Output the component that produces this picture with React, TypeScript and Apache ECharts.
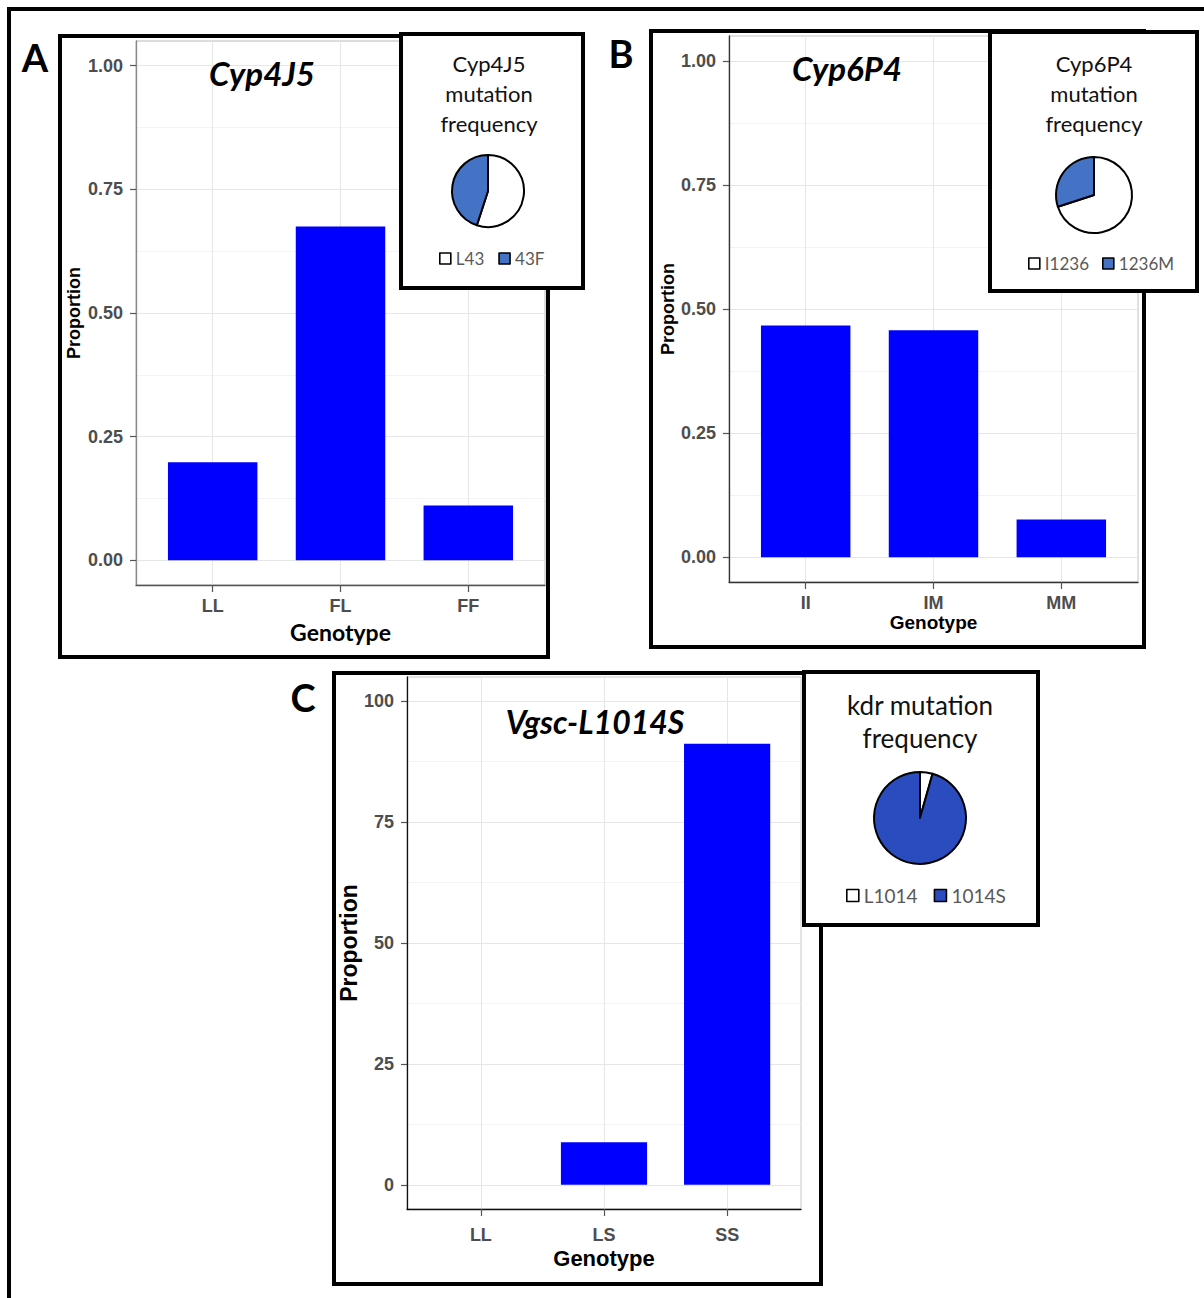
import React, { useEffect, useRef } from "react";
import * as echarts from "echarts";

// ---------- data ----------
const genotypesA = ["LL", "FL", "FF"];
const proportionA = [0.198, 0.675, 0.111];
const genotypesB = ["II", "IM", "MM"];
const proportionB = [0.467, 0.457, 0.076];
const genotypesC = ["LL", "LS", "SS"];
const proportionC = [0, 8.8, 91.2];

const allelesA = ["L43", "43F"];
const allelesAFreq = [0.55, 0.45];
const allelesB = ["I1236", "1236M"];
const allelesBFreq = [0.7, 0.3];
const allelesC = ["L1014", "1014S"];
const allelesCFreq = [0.044, 0.956];

const ticksAB = [0, 0.25, 0.5, 0.75, 1];
const minorAB = [0.125, 0.375, 0.625, 0.875];
const ticksC = [0, 25, 50, 75, 100];
const minorC = [12.5, 37.5, 62.5, 87.5];
const catPos = [1, 2, 3];

// ---------- styles ----------
const ARIAL = "'Liberation Sans', Arial, sans-serif";
const NARROW = "'Liberation Sans Narrow', 'Liberation Sans', Arial, sans-serif";
const LATO = "Lato, 'Open Sans', sans-serif";
const BAR = "#0000FF";
const TICK_GRAY = "#4D4D4D";

type PanelCfg = {
  grid: { left: number; top: number; width: number; height: number };
  cats: string[];
  values: number[];
  yMin: number;
  yMax: number;
  ticks: number[];
  minor: number[];
  fmt: (v: number) => string;
  tickFont: string;
  tickSize: number;
  xLabelMargin: number;
  yLabelMargin: number;
  xLine: string;
  yLine: string;
  border: string;
  xName: { font: string; size: number; gap: number };
  yName: { font: string; size: number; gap: number };
};

function buildPanel(i: number, c: PanelCfg) {
  const grid = {
    left: c.grid.left,
    top: c.grid.top,
    width: c.grid.width,
    height: c.grid.height,
    show: true,
    backgroundColor: "#fff",
    borderColor: c.border,
    borderWidth: 1,
    containLabel: false,
  };
  const xAxis = {
    type: "value",
    gridIndex: i,
    min: 0.4,
    max: 3.6,
    axisLine: { show: true, onZero: false, lineStyle: { color: c.xLine, width: 1.3 } },
    axisTick: { show: true, customValues: catPos, length: 7, lineStyle: { color: "#555", width: 1.2 } },
    axisLabel: {
      show: true,
      customValues: catPos,
      formatter: (v: number) => c.cats[Math.round(v) - 1] ?? "",
      fontSize: c.tickSize,
      fontWeight: "bold",
      fontFamily: c.tickFont,
      color: TICK_GRAY,
      margin: c.xLabelMargin,
    },
    splitLine: { show: true, lineStyle: { color: "#E6E6E6", width: 1 } },
    name: "Genotype",
    nameLocation: "middle",
    nameGap: c.xName.gap,
    nameTextStyle: {
      fontFamily: c.xName.font,
      fontSize: c.xName.size,
      fontWeight: "bold",
      color: "#000",
    },
  };
  const yMain = {
    type: "value",
    gridIndex: i,
    min: c.yMin,
    max: c.yMax,
    position: "left",
    axisLine: { show: true, onZero: false, lineStyle: { color: c.yLine, width: 1.3 } },
    axisTick: { show: true, customValues: c.ticks, length: 6, lineStyle: { color: "#555", width: 1.2 } },
    axisLabel: {
      show: true,
      customValues: c.ticks,
      formatter: (v: number) => c.fmt(v),
      fontSize: c.tickSize,
      fontWeight: "bold",
      fontFamily: c.tickFont,
      color: TICK_GRAY,
      margin: c.yLabelMargin,
    },
    splitLine: { show: true, lineStyle: { color: "#E6E6E6", width: 1 } },
    name: "Proportion",
    nameLocation: "middle",
    nameGap: c.yName.gap,
    nameTextStyle: {
      fontFamily: c.yName.font,
      fontSize: c.yName.size,
      fontWeight: "bold",
      color: "#000",
    },
  };
  const yMinor = {
    type: "value",
    gridIndex: i,
    min: c.yMin,
    max: c.yMax,
    position: "left",
    axisLine: { show: false },
    axisTick: { show: false, customValues: c.minor },
    axisLabel: { show: false, customValues: c.minor },
    splitLine: { show: true, lineStyle: { color: "#F3F3F3", width: 1 } },
  };
  const series = {
    type: "bar",
    xAxisIndex: i,
    yAxisIndex: 2 * i,
    data: c.values.map((v, k) => [catPos[k], v]),
    barWidth: "70%",
    itemStyle: { color: BAR },
    silent: true,
    z: 2,
  };
  return { grid, xAxis, yAxes: [yMain, yMinor], series };
}

function pieSeries(names: string[], freqs: number[], blue: string, center: number[], radius: number) {
  return {
    type: "pie",
    center,
    radius,
    startAngle: 90,
    clockwise: true,
    silent: true,
    z: 12,
    label: { show: false },
    labelLine: { show: false },
    data: names.map((n, k) => ({
      name: n,
      value: freqs[k],
      itemStyle: { color: k === 0 ? "#FFFFFF" : blue, borderColor: "#000", borderWidth: 2 },
    })),
  };
}

function pieLegend(names: string[], left: number, top: number, size: number, icon: number, gap: number) {
  return {
    data: names,
    left,
    top,
    orient: "horizontal",
    padding: 0,
    itemWidth: icon,
    itemHeight: icon,
    itemGap: gap,
    icon: "rect",
    selectedMode: false,
    z: 12,
    itemStyle: { borderColor: "#000", borderWidth: 1.6 },
    textStyle: { fontFamily: LATO, fontSize: size, color: "#595959", padding: [0, 0, 0, 0] },
  };
}

const frame = (x: number, y: number, w: number, h: number, lw: number, z: number, fill = "none") => ({
  type: "rect",
  silent: true,
  z,
  shape: { x, y, width: w, height: h },
  style: { fill, stroke: "#000", lineWidth: lw },
});

const label = (text: string, x: number, y: number, o: any, z = 8) => ({
  type: "text",
  silent: true,
  z,
  x,
  y,
  style: {
    text,
    textAlign: "center",
    textVerticalAlign: "middle",
    fill: o.fill ?? "#000",
    fontSize: o.size,
    fontFamily: o.font,
    fontWeight: o.weight ?? "normal",
    fontStyle: o.style ?? "normal",
    lineHeight: o.lineHeight,
  },
});

export default function App() {
  const ref = useRef<HTMLDivElement>(null);

  useEffect(() => {
    if (!ref.current) return;
    const chart = echarts.init(ref.current, undefined, { renderer: "svg" });

    const A = buildPanel(0, {
      grid: { left: 136, top: 41, width: 409, height: 544 },
      cats: genotypesA,
      values: proportionA,
      yMin: -0.05,
      yMax: 1.05,
      ticks: ticksAB,
      minor: minorAB,
      fmt: (v) => v.toFixed(2),
      tickFont: ARIAL,
      tickSize: 18,
      xLabelMargin: 12,
      yLabelMargin: 13,
      xLine: "#555",
      yLine: "#888",
      border: "#B8B8B8",
      xName: { font: LATO, size: 23, gap: 35 },
      yName: { font: ARIAL, size: 18, gap: 53 },
    });
    const B = buildPanel(1, {
      grid: { left: 729, top: 36, width: 409, height: 546 },
      cats: genotypesB,
      values: proportionB,
      yMin: -0.05,
      yMax: 1.05,
      ticks: ticksAB,
      minor: minorAB,
      fmt: (v) => v.toFixed(2),
      tickFont: ARIAL,
      tickSize: 18,
      xLabelMargin: 12,
      yLabelMargin: 13,
      xLine: "#333",
      yLine: "#333",
      border: "#C4C4C4",
      xName: { font: ARIAL, size: 19, gap: 31 },
      yName: { font: ARIAL, size: 18, gap: 52 },
    });
    const C = buildPanel(2, {
      grid: { left: 407, top: 677, width: 394, height: 532 },
      cats: genotypesC,
      values: proportionC,
      yMin: -5,
      yMax: 105,
      ticks: ticksC,
      minor: minorC,
      fmt: (v) => String(v),
      tickFont: NARROW,
      tickSize: 18,
      xLabelMargin: 17,
      yLabelMargin: 13,
      xLine: "#111",
      yLine: "#111",
      border: "#C8C8C8",
      xName: { font: NARROW, size: 22, gap: 38 },
      yName: { font: NARROW, size: 23, gap: 42 },
    });

    const option: any = {
      animation: false,
      backgroundColor: "#fff",
      grid: [A.grid, B.grid, C.grid],
      xAxis: [A.xAxis, B.xAxis, C.xAxis],
      yAxis: [...A.yAxes, ...B.yAxes, ...C.yAxes],
      legend: [
        pieLegend(allelesA, 439, 250, 17, 11, 14),
        pieLegend(allelesB, 1028, 255, 17, 11, 13),
        pieLegend(allelesC, 846, 886, 19, 12, 16),
      ],
      series: [
        A.series,
        B.series,
        C.series,
        pieSeries(allelesA, allelesAFreq, "#4472C4", [488, 191], 36),
        pieSeries(allelesB, allelesBFreq, "#4472C4", [1094, 195], 38),
        pieSeries(allelesC, allelesCFreq, "#2B4CBF", [920, 818], 46),
      ],
      graphic: [
        // outer frame
        frame(9, 9, 1300, 1400, 4, 5),
        // panel frames
        frame(60, 36, 488, 621, 4, 5),
        frame(651, 31, 493, 616, 4, 5),
        frame(334, 673, 487, 611, 4, 5),
        // panel letters
        label("A", 35, 57, { size: 38, font: LATO, weight: "bold" }),
        label("B", 621, 53, { size: 38, font: LATO, weight: "bold" }),
        label("C", 303, 697, { size: 38, font: LATO, weight: "bold" }),
        // plot titles
        label("Cyp4J5", 262, 73, { size: 33, font: LATO, weight: "bold", style: "italic" }),
        label("Cyp6P4", 847, 68, { size: 33, font: LATO, weight: "bold", style: "italic" }),
        label("Vgsc-L1014S", 595, 721, { size: 32, font: LATO, weight: "bold", style: "italic" }),
        // insets
        frame(401, 34, 182, 254, 4, 10, "#fff"),
        frame(990, 32, 207, 259, 4, 10, "#fff"),
        frame(804, 672, 234, 253, 4, 10, "#fff"),
        label("Cyp4J5\nmutation\nfrequency", 489, 93, { size: 22, font: LATO, lineHeight: 30, fill: "#111" }, 11),
        label("Cyp6P4\nmutation\nfrequency", 1094, 93, { size: 22, font: LATO, lineHeight: 30, fill: "#111" }, 11),
        label("kdr mutation\nfrequency", 920, 721, { size: 26, font: LATO, lineHeight: 33, fill: "#111" }, 11),
      ],
    };

    chart.setOption(option);
    return () => chart.dispose();
  }, []);

  return (
    <div
      ref={ref}
      style={{ position: "absolute", left: 0, top: 0, width: 1204, height: 1298, background: "#fff" }}
    />
  );
}
